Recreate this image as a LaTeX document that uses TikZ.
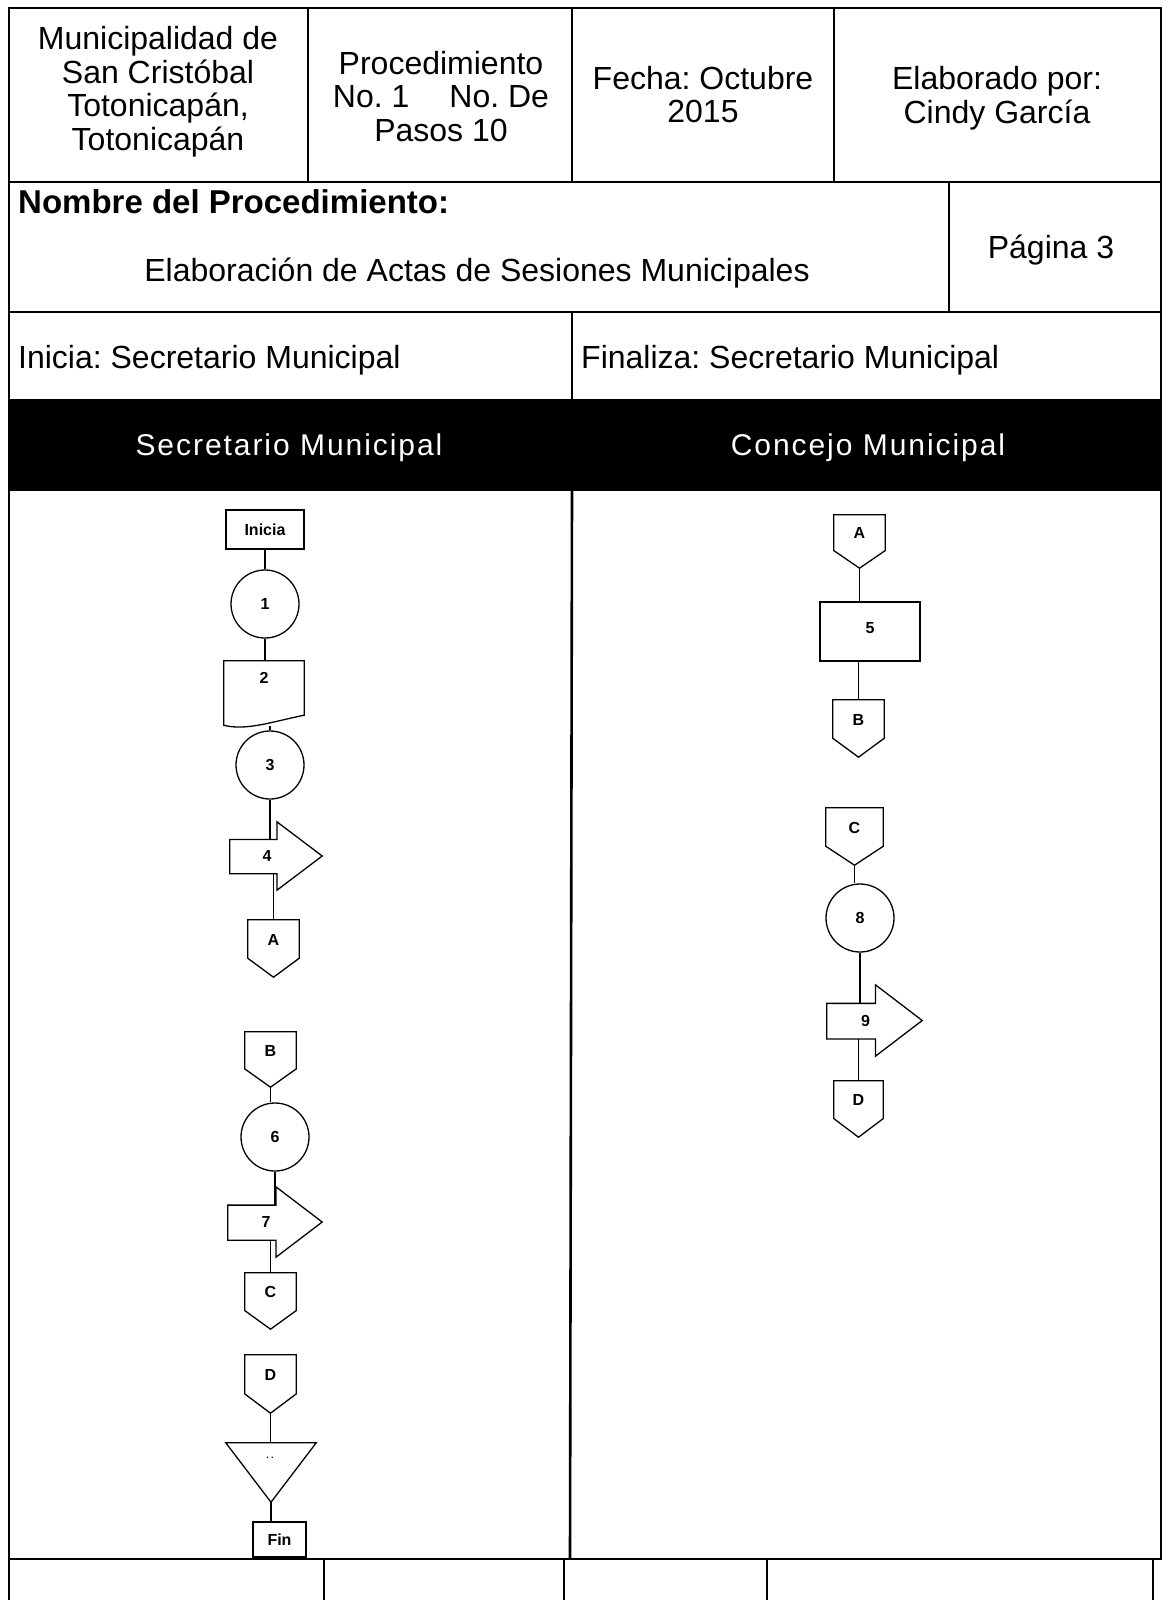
\documentclass[tikz,border=0pt]{standalone}
\usepackage{fontspec}
\setmainfont{Liberation Sans}
\newfontfamily\bandfont[LetterSpace=6.5]{Liberation Sans}
\usetikzlibrary{calc}
\frenchspacing

% plain rectangular step box given by its corners
\newcommand\stepbox[6]{%
  \node[draw, shp, fitbox, minimum width={(#4-#2)*1pt}, minimum height={(#5-#3)*1pt}]
    (#1) at ({(#2+#4)/2},{(#3+#5)/2}) {#6};}

% off-page connector: pentagon pointing down
\newcommand\offpage[6]{%
  \node[fitbox, minimum width={(#4-#2)*1pt}, minimum height={(#5-#3)*1pt}]
    (#1) at ({(#2+#4)/2},{(#3+#5)/2}) {\raisebox{18pt}{#6}};
  \draw[shp] (#1.north west) -- (#1.north east)
    -- ($(#1.north east)!0.67!(#1.south east)$) -- (#1.south)
    -- ($(#1.north west)!0.67!(#1.south west)$) -- cycle;}

% block arrow pointing right (transport step)
\newcommand\arrowstep[6]{%
  \node[fitbox, minimum width={(#4-#2)*1pt}, minimum height={(#5-#3)*1pt}]
    (#1) at ({(#2+#4)/2},{(#3+#5)/2}) {\makebox[0pt]{#6\hspace*{18pt}}};
  \coordinate (#1-a) at ($(#1.north west)!0.26!(#1.south west)$);
  \coordinate (#1-b) at ($(#1.north west)!0.76!(#1.south west)$);
  \coordinate (#1-h) at ($(#1.north west)!0.51!(#1.north east)$);
  \draw[shp] (#1-a) -- (#1-h |- #1-a) -- (#1-h) -- (#1.east)
    -- (#1-h |- #1.south) -- (#1-h |- #1-b) -- (#1-b) -- cycle;}

\begin{document}
\begin{tikzpicture}[x=1pt,y=-1pt,
  rule/.style={line width=2.6pt},
  shp/.style={line width=1.3pt},
  link/.style={line width=1.2pt},
  lbl/.style={font=\fontsize{16}{16}\selectfont\bfseries},
  fitbox/.style={inner sep=0pt, lbl},
  stepcircle/.style={draw, shp, circle, minimum size=68pt, inner sep=0pt, lbl},
  hdr/.style={align=center, font=\fontsize{32}{33.5}\selectfont, inner sep=0pt},
  one/.style={font=\fontsize{32}{33.5}\selectfont, inner sep=0pt},
  lanehead/.style={font=\bandfont\fontsize{30}{30}\selectfont, text=white, inner sep=0pt}
]
\useasboundingbox (0,0) rectangle (1171,1600);

% ---- form frame ----
\fill[black] (9,400) rectangle (1161,490);
\draw[rule] (9,8) rectangle (1161,1559);
\draw[rule] (9,182) -- (1161,182);
\draw[rule] (9,312) -- (1161,312);
\draw[rule] (9,400) -- (1161,400);
\draw[rule] (9,490) -- (1161,490);
\draw[rule] (308,8) -- (308,182) (572,8) -- (572,182) (834,8) -- (834,182);
\draw[rule] (949,182) -- (949,312);
\draw[rule] (572,312) -- (572,400);
\draw[rule] (572,490) -- (570,1559);
\draw[rule] (9,1559) -- (9,1600) (324,1559) -- (324,1600) (564,1559) -- (564,1600)
  (767,1559) -- (767,1600) (1153,1559) -- (1153,1600);

% ---- header texts ----
\node[hdr] (muni) at (158,91.5) {Municipalidad de\\San Cristóbal\\Totonicapán,\\Totonicapán};
\node[hdr] (proc) at (441,96.5) {Procedimiento\\No. 1\hspace{40pt}No. De\\Pasos 10};
\node[hdr] (fecha) at (703,94.8) {Fecha: Octubre\\2015};
\node[hdr] (autor) at (997,98) {Elaborado por:\\Cindy García};
\node[one, anchor=base west, font=\fontsize{33}{33.5}\selectfont\bfseries] (nombre) at (18,213) {Nombre del Procedimiento:};
\node[one, anchor=base] (titulo) at (477,281) {Elaboración de Actas de Sesiones Municipales};
\node[one, anchor=base] (pagina) at (1051,258) {Página 3};
\node[one, anchor=base west] (inicia) at (18,368) {Inicia: Secretario Municipal};
\node[one, anchor=base west] (finaliza) at (581,368) {Finaliza: Secretario Municipal};
\node[lanehead, anchor=base] (lane1) at (289,455) {Secretario Municipal};
\node[lanehead, anchor=base] (lane2) at (868,455) {Concejo Municipal};

% ---- Secretario Municipal lane ----
\stepbox{ini}{226}{510}{304}{549}{Inicia}
\node[stepcircle] (c1) at (265,604) {1};
\node[fitbox, minimum width=80pt, minimum height=65pt] (d2) at (264,693.5) {\raisebox{31pt}{2}};
\draw[shp] (d2.north west) -- ([yshift=1pt]d2.south west)
  .. controls +(22,6) and +(-30,6) .. ([yshift=11pt]d2.south east)
  -- (d2.north east) -- cycle;
\node[stepcircle] (c3) at (270,765) {3};
\arrowstep{a4}{230}{822}{322}{890}{4}
\offpage{A1}{248}{920}{299}{977}{A}
\offpage{B1}{245}{1032}{296}{1087}{B}
\node[stepcircle] (c6) at (275,1137) {6};
\arrowstep{a7}{228}{1187}{322}{1257}{7}
\offpage{C1}{245}{1273}{296}{1329}{C}
\offpage{D1}{245}{1355}{296}{1413}{D}
\node[inner sep=0pt, minimum width=90pt, minimum height=59pt] (tri) at (271,1472.5) {};
\draw[shp] (tri.north west) -- (tri.north east) -- (tri.south) -- cycle;
\node[font=\fontsize{9}{9}\selectfont\bfseries, inner sep=0pt] (trilbl) at (270,1458) {. .};
\stepbox{fin}{253}{1522}{306}{1557}{Fin}

\draw[link] (ini.south) -- (ini.south |- c1.north);
\draw[link] (c1.south) -- (c1.south |- d2.north);
\draw[link] (c3.north |- d2.south) -- (c3.north);
\draw[link] (c3.south) -- (c3.south |- a4-a);
\draw[link] (A1.north |- a4-b) -- (A1.north);
\draw[link] (B1.south) -- (B1.south |- c6.north);
\draw[link] (c6.south) -- (c6.south |- a7-a);
\draw[link] (C1.north |- a7-b) -- (C1.north);
\draw[link] (D1.south) -- (D1.south |- tri.north);
\draw[link] (tri.south) -- (tri.south |- fin.north);

% ---- Concejo Municipal lane ----
\offpage{A2}{834}{515}{885}{568}{A}
\stepbox{b5}{820}{602}{920}{661}{\raisebox{8pt}{5}}
\offpage{B2}{833}{700}{884}{757}{B}
\offpage{C2}{826}{808}{883}{865}{C}
\node[stepcircle] (c8) at (860,918) {8};
\arrowstep{a9}{827}{985}{922}{1056}{9}
\offpage{D2}{834}{1081}{883}{1137}{D}

\draw[link] (A2.south) -- (A2.south |- b5.north);
\draw[link] (B2.north |- b5.south) -- (B2.north);
\draw[link] (C2.south) -- (C2.south |- c8.north);
\draw[link] (c8.south) -- (c8.south |- a9-a);
\draw[link] (D2.north |- a9-b) -- (D2.north);
\end{tikzpicture}
\end{document}
